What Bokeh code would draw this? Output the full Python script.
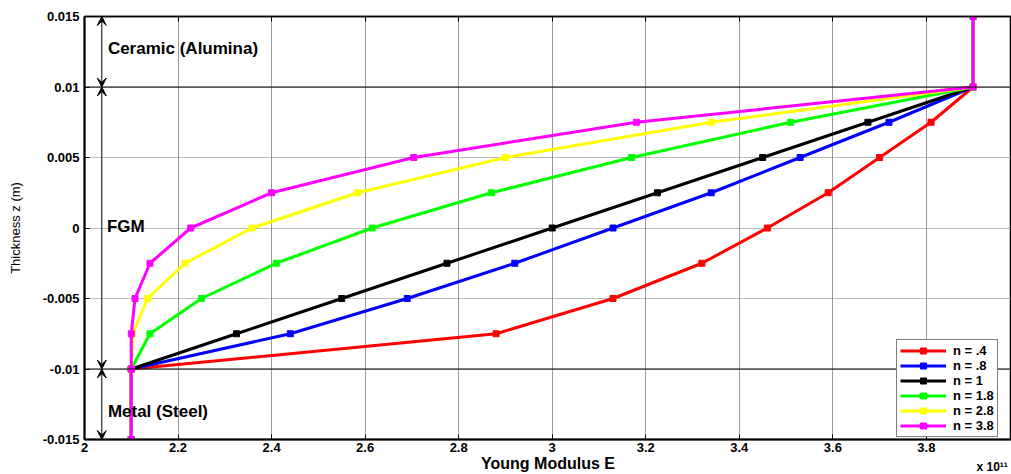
from bokeh.plotting import figure
from bokeh.models import (Range1d, FixedTicker, Span, Arrow, VeeHead, Label,
                          Legend, LegendItem, LinearAxis)
from bokeh.embed import file_html
from bokeh.resources import INLINE

# ---- data ----
z = [-0.015, -0.01, -0.0075, -0.005, -0.0025, 0.0, 0.0025, 0.005, 0.0075, 0.01, 0.015]
E_n04 = [2.1, 2.1, 2.88, 3.13, 3.32, 3.46, 3.59, 3.70, 3.81, 3.9, 3.9]
E_n08 = [2.1, 2.1, 2.44, 2.69, 2.92, 3.13, 3.34, 3.53, 3.72, 3.9, 3.9]
E_n1 = [2.1, 2.1, 2.325, 2.55, 2.775, 3.0, 3.225, 3.45, 3.675, 3.9, 3.9]
E_n18 = [2.1, 2.1, 2.14, 2.25, 2.41, 2.615, 2.87, 3.17, 3.51, 3.9, 3.9]
E_n28 = [2.1, 2.1, 2.103, 2.135, 2.215, 2.358, 2.584, 2.90, 3.34, 3.9, 3.9]
E_n38 = [2.1, 2.1, 2.10, 2.108, 2.14, 2.227, 2.40, 2.704, 3.18, 3.9, 3.9]
series_labels = ["n = .4", "n = .8", "n = 1", "n = 1.8", "n = 2.8", "n = 3.8"]
series_values = [E_n04, E_n08, E_n1, E_n18, E_n28, E_n38]
series_colors = ["#FF0000", "#0000FF", "#000000", "#00FF00", "#FFFF00", "#FF00FF"]

x_ticks = [2.0, 2.2, 2.4, 2.6, 2.8, 3.0, 3.2, 3.4, 3.6, 3.8]
x_tick_labels = ["2", "2.2", "2.4", "2.6", "2.8", "3", "3.2", "3.4", "3.6", "3.8"]
y_ticks = [-0.015, -0.01, -0.005, 0.0, 0.005, 0.01, 0.015]
y_tick_labels = ["-0.015", "-0.01", "-0.005", "0", "0.005", "0.01", "0.015"]

layer_bounds = [0.01, -0.01]
region_labels = ["Ceramic (Alumina)", "FGM", "Metal (Steel)"]
exponent_text = "x 10\u00b9\u00b9"

FONT = "Liberation Sans"

p = figure(width=1011, height=474,
           x_range=Range1d(2.0, 3.982), y_range=Range1d(-0.015, 0.015),
           output_backend="svg", toolbar_location=None,
           min_border_left=84, min_border_right=0, min_border_top=16,
           min_border_bottom=35)

p.background_fill_color = "white"
p.border_fill_color = "white"
p.outline_line_color = "black"
p.outline_line_width = 1.5

# axes
for ax in (p.xaxis[0], p.yaxis[0]):
    ax.axis_line_color = "black"
    ax.axis_line_width = 2
    ax.major_tick_in = 5
    ax.major_tick_out = 0
    ax.minor_tick_line_color = None
    ax.major_tick_line_color = "black"
    ax.major_label_text_font = FONT
    ax.major_label_text_font_style = "bold"
    ax.major_label_text_font_size = "13px"
    ax.major_label_text_color = "black"
    ax.axis_label_text_font = FONT
    ax.axis_label_text_color = "black"

p.xaxis.ticker = FixedTicker(ticks=x_ticks)
p.xaxis.major_label_overrides = dict(zip(x_ticks, x_tick_labels))
p.xaxis.major_label_standoff = 3
p.xaxis.axis_label = "Young Modulus E"
p.xaxis.axis_label_text_font_style = "bold"
p.xaxis.axis_label_text_font_size = "16px"
p.xaxis.axis_label_standoff = 0

p.yaxis.ticker = FixedTicker(ticks=y_ticks)
p.yaxis.major_label_overrides = dict(zip(y_ticks, y_tick_labels))
p.yaxis.major_label_standoff = 5
p.yaxis.axis_label = "Thickness z (m)"
p.yaxis.axis_label_text_font_style = "normal"
p.yaxis.axis_label_text_font_size = "13px"
p.yaxis.axis_label_standoff = 17

# top axis: tick marks only (box-style axes), no labels drawn
top_axis = LinearAxis(ticker=FixedTicker(ticks=x_ticks),
                      major_label_text_font_size="0px", major_label_text_color=None,
                      major_label_standoff=0,
                      major_tick_in=5, major_tick_out=0,
                      minor_tick_line_color=None, major_tick_line_color="black",
                      axis_line_color="black", axis_line_width=1.5)
p.add_layout(top_axis, "above")

# grid
p.xgrid.ticker = FixedTicker(ticks=x_ticks)
p.xgrid.grid_line_color = "#9a9a9a"
p.xgrid.grid_line_width = 1
p.ygrid.ticker = FixedTicker(ticks=y_ticks)
p.ygrid.grid_line_color = "#777777"
p.ygrid.grid_line_dash = "1 1"
p.ygrid.grid_line_width = 1

# layer boundaries
for b in layer_bounds:
    p.add_layout(Span(location=b, dimension="width", line_color="black", line_width=1))

# series
items = []
for lab, vals, col in zip(series_labels, series_values, series_colors):
    r1 = p.line(vals, z, line_color=col, line_width=3)
    r2 = p.scatter(vals, z, marker="square", size=6, fill_color=col, line_color=col)
    items.append(LegendItem(label=lab, renderers=[r1, r2]))

legend = Legend(items=items, location=(812, 2))
legend.label_text_font = FONT
legend.label_text_font_style = "bold"
legend.label_text_font_size = "13px"
legend.label_text_color = "black"
legend.glyph_width = 46
legend.glyph_height = 15
legend.label_height = 15
legend.label_standoff = 7
legend.spacing = 0
legend.padding = 3
legend.margin = 0
legend.border_line_color = "black"
legend.border_line_width = 1
legend.background_fill_color = "white"
legend.background_fill_alpha = 1.0
p.add_layout(legend)

# double-headed arrows marking the layers
arrow_x = 2.037
arrow_spans = [(0.015, 0.01), (0.01, -0.01), (-0.01, -0.015)]
for y0, y1 in arrow_spans:
    p.add_layout(Arrow(
        start=VeeHead(size=9, fill_color="black", line_color="black", line_width=1),
        end=VeeHead(size=9, fill_color="black", line_color="black", line_width=1),
        x_start=arrow_x, y_start=y0, x_end=arrow_x, y_end=y1,
        line_color="black", line_width=1))

label_pos = [(2.05, 0.0127), (2.048, 0.0001), (2.05, -0.0130)]
for txt, (lx, ly) in zip(region_labels, label_pos):
    p.add_layout(Label(x=lx, y=ly, text=txt, text_font=FONT, text_font_style="bold",
                       text_font_size="17px", text_baseline="middle", text_color="black"))

# exponent note: lives in the (roomy) top side panel so it is not clipped by the
# frame, and is shifted down to the bottom-right corner
p.add_layout(Label(x=892, y=-450, x_units="screen", y_units="screen", text=exponent_text,
                   text_font=FONT, text_font_style="bold", text_font_size="12px",
                   text_baseline="middle", text_color="black"), "above")

open("out.html", "w").write(file_html(p, INLINE))
